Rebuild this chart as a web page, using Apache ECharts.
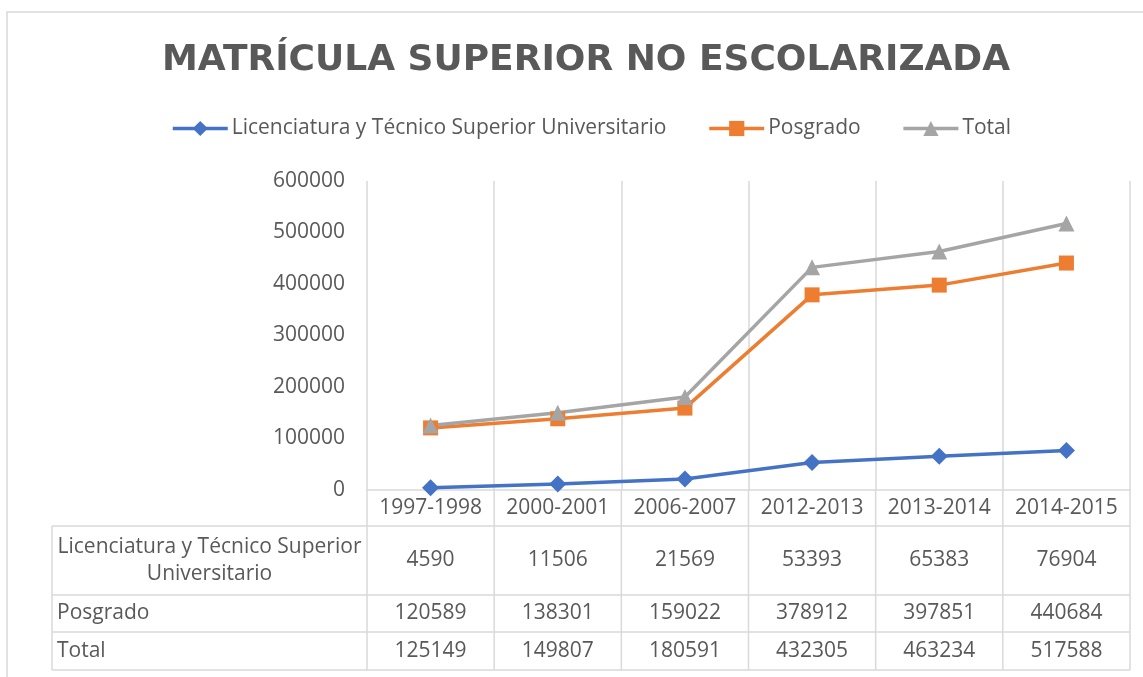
<!DOCTYPE html>
<html>
<head>
<meta charset="utf-8">
<script src="https://cdn.jsdelivr.net/npm/echarts@6/dist/echarts.min.js"></script>
<style>
  html, body { margin: 0; padding: 0; background: #ffffff; }
  #chart { width: 1143px; height: 677px; }
</style>
</head>
<body>
<div id="chart"></div>
<script>
// data
const categories = ["1997-1998", "2000-2001", "2006-2007", "2012-2013", "2013-2014", "2014-2015"];
const licenciatura = [4590, 11506, 21569, 53393, 65383, 76904];
const posgrado = [120589, 138301, 159022, 378912, 397851, 440684];
const total = [125149, 149807, 180591, 432305, 463234, 517588];
const seriesNames = ["Licenciatura y Técnico Superior Universitario", "Posgrado", "Total"];
const rowLabels = ["Licenciatura y Técnico Superior\nUniversitario", "Posgrado", "Total"];
const yTicks = [0, 100000, 200000, 300000, 400000, 500000, 600000];

const chart = echarts.init(document.getElementById("chart"));

const FONT = "'Open Sans', 'DejaVu Sans', sans-serif";
const TEXT = "#595959";
const BORDER = "#d9d9d9";
const FS = 21;

// grid / table geometry
const gridLeft = 367, gridRight = 1130, gridTop = 181, gridBottom = 490;
const colW = (gridRight - gridLeft) / categories.length;
const tableLeft = 52;
const rowLines = [526, 595, 632, 670]; // bottom of header row, then each data row
const rowValues = [licenciatura, posgrado, total];

const graphic = [];
// outer chart frame
graphic.push({
  type: "rect",
  shape: { x: 7, y: 12, width: 1160, height: 700 },
  style: { fill: "none", stroke: BORDER, lineWidth: 1.5 },
  silent: true
});
// horizontal table lines
for (let r = 0; r < rowLines.length; r++) {
  graphic.push({
    type: "line",
    shape: { x1: tableLeft, y1: rowLines[r], x2: gridRight, y2: rowLines[r] },
    style: { stroke: BORDER, lineWidth: 1.5 }
  });
}
// vertical table lines
for (let c = 0; c <= categories.length; c++) {
  const x = gridLeft + c * colW;
  graphic.push({
    type: "line",
    shape: { x1: x, y1: gridBottom, x2: x, y2: rowLines[rowLines.length - 1] },
    style: { stroke: BORDER, lineWidth: 1.5 }
  });
}
graphic.push({
  type: "line",
  shape: { x1: tableLeft, y1: rowLines[0], x2: tableLeft, y2: rowLines[rowLines.length - 1] },
  style: { stroke: BORDER, lineWidth: 1.5 }
});
// table texts
for (let r = 0; r < rowValues.length; r++) {
  const yMid = (rowLines[r] + rowLines[r + 1]) / 2;
  const multi = rowLabels[r].indexOf("\n") >= 0;
  graphic.push({
    type: "text",
    x: multi ? (tableLeft + gridLeft) / 2 : tableLeft + 5,
    y: yMid,
    style: {
      text: rowLabels[r],
      fill: TEXT,
      font: FS + "px " + FONT,
      align: multi ? "center" : "left",
      verticalAlign: "middle",
      lineHeight: 27
    }
  });
  rowValues[r].forEach((v, c) => {
    graphic.push({
      type: "text",
      x: gridLeft + (c + 0.5) * colW,
      y: yMid,
      style: {
        text: String(v),
        fill: TEXT,
        font: FS + "px " + FONT,
        align: "center",
        verticalAlign: "middle"
      }
    });
  });
}

const option = {
  backgroundColor: "#ffffff",
  animation: false,
  title: {
    text: "MATRÍCULA SUPERIOR NO ESCOLARIZADA",
    left: 157,
    top: 38,
    textStyle: { fontFamily: "'DejaVu Sans', sans-serif", fontSize: 36, fontWeight: "bold", color: TEXT }
  },
  legend: {
    top: 113,
    left: 166,
    itemWidth: 55,
    itemHeight: 19,
    itemGap: 41,
    lineStyle: { width: 3.5 },
    textStyle: { fontFamily: FONT, fontSize: FS, color: TEXT, padding: [0, 0, 0, -1] },
    data: seriesNames
  },
  grid: {
    left: gridLeft,
    right: 1143 - gridRight,
    top: gridTop,
    bottom: 677 - gridBottom,
    containLabel: false
  },
  xAxis: {
    type: "category",
    data: categories,
    boundaryGap: true,
    axisLine: { lineStyle: { color: BORDER, width: 1.5 } },
    axisTick: { show: false },
    splitLine: { show: true, interval: 0, lineStyle: { color: BORDER, width: 1.5 } },
    axisLabel: { fontFamily: FONT, fontSize: FS, color: TEXT, margin: 8, interval: 0 }
  },
  yAxis: {
    type: "value",
    min: yTicks[0],
    max: yTicks[yTicks.length - 1],
    interval: yTicks[1] - yTicks[0],
    axisLine: { show: false },
    axisTick: { show: false },
    splitLine: { show: false },
    axisLabel: {
      fontFamily: FONT, fontSize: FS, color: TEXT, margin: 22,
      formatter: (v) => String(v)
    }
  },
  series: [
    {
      name: seriesNames[0],
      type: "line",
      data: licenciatura,
      symbol: "diamond",
      symbolSize: 17,
      lineStyle: { width: 3.5, color: "#4472c4" },
      itemStyle: { color: "#4472c4" }
    },
    {
      name: seriesNames[1],
      type: "line",
      data: posgrado,
      symbol: "rect",
      symbolSize: 15,
      lineStyle: { width: 3.5, color: "#ed7d31" },
      itemStyle: { color: "#ed7d31" }
    },
    {
      name: seriesNames[2],
      type: "line",
      data: total,
      symbol: "triangle",
      symbolSize: 16,
      lineStyle: { width: 3.5, color: "#a5a5a5" },
      itemStyle: { color: "#a5a5a5" }
    }
  ],
  graphic: graphic
};

chart.setOption(option);
window.addEventListener("resize", () => chart.resize());
</script>
</body>
</html>
